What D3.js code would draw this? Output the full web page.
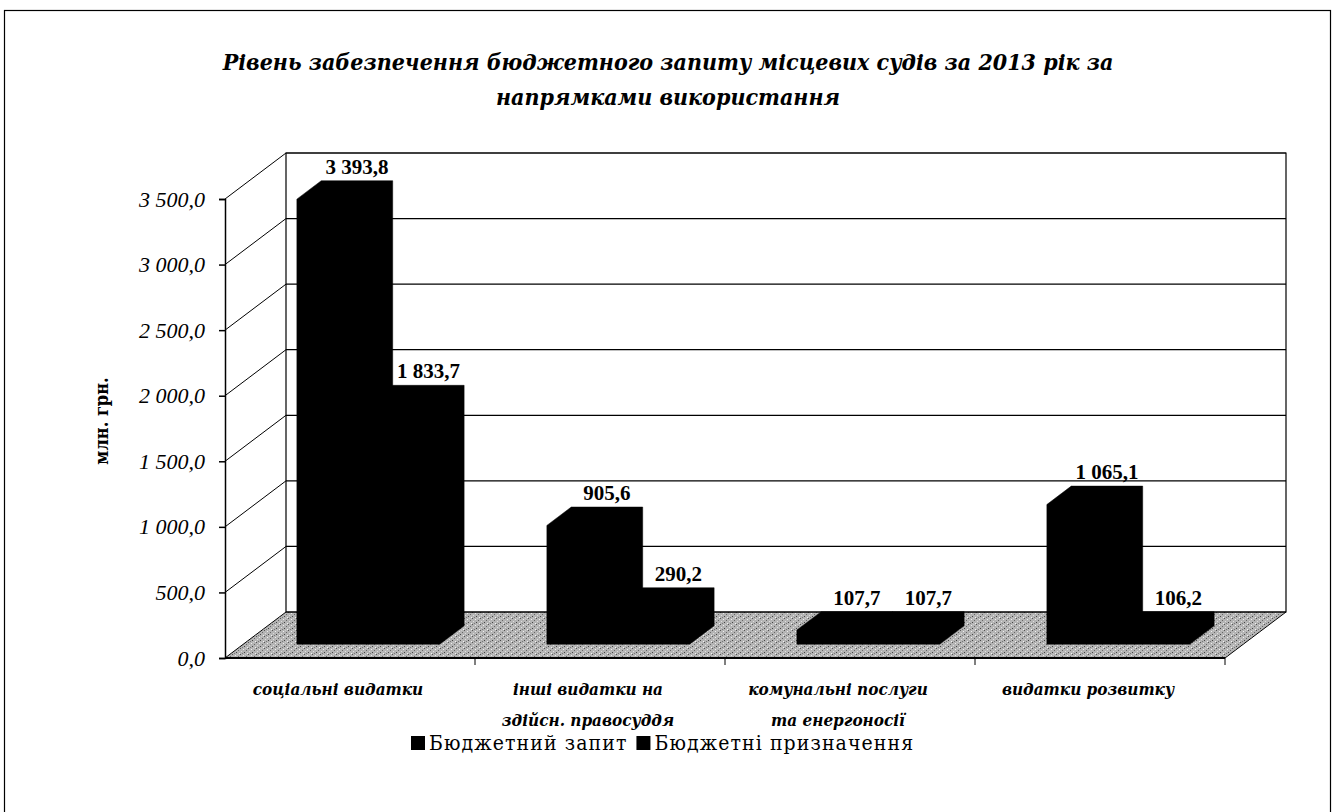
<!DOCTYPE html>
<html>
<head>
<meta charset="utf-8">
<script src="https://cdn.jsdelivr.net/npm/d3@7"></script>
<style>
  body { margin: 0; background: #fff; }
  svg { display: block; }
  text { font-family: "DejaVu Serif Condensed", "DejaVu Serif", "Liberation Serif", serif; fill: #000; }
  .num { font-family: "Liberation Serif", "Times New Roman", serif; }
</style>
</head>
<body>
<div id="chart"></div>
<script>
// chart data
const categories = [
    ['соціальні видатки'],
    ['інші видатки на', 'здійсн. правосуддя'],
    ['комунальні послуги', 'та енергоносії'],
    ['видатки розвитку']
];
const seriesNames = ['Бюджетний запит', 'Бюджетні призначення'];
const requestValues = [3393.8, 905.6, 107.7, 1065.1];
const allocatedValues = [1833.7, 290.2, 107.7, 106.2];
const yTicks = [0, 500, 1000, 1500, 2000, 2500, 3000, 3500];
const titleLines = [
    'Рівень забезпечення бюджетного запиту місцевих судів за 2013 рік за',
    'напрямками використання'
];
const yLabel = 'млн. грн.';

const width = 1335;
const height = 812;

// 3D look: full depth of the floor and the slice that the bars take
const depthX = 61;
const depthY = -46;
const barFront = 0.3;
const barBack = 0.7;

const svg = d3.select('#chart').append('svg')
    .attr('width', width)
    .attr('height', height);

const locale = d3.formatLocale({decimal: ',', thousands: ' ', grouping: [3], currency: ['', '']});
const fmt = locale.format(',.1f');

const x = d3.scaleBand()
    .domain(d3.range(categories.length))
    .range([225, 1225]);

const xInner = d3.scaleBand()
    .domain([0, 1])
    .range([0, x.bandwidth()])
    .paddingOuter(0.75);

const y = d3.scaleLinear()
    .domain([0, 3500])
    .range([658, 199]);

function proj(px, py, f) {
    return [px + f * depthX, py + f * depthY];
}

// floor texture
const defs = svg.append('defs');
const pat = defs.append('pattern')
    .attr('id', 'floorPat')
    .attr('width', 8)
    .attr('height', 6)
    .attr('patternUnits', 'userSpaceOnUse');
pat.append('rect').attr('width', 8).attr('height', 6).attr('fill', '#b4b4b4');
[[0, 0, '#555'], [3, 1, '#eee'], [6, 2, '#666'], [1, 3, '#ddd'], [4, 4, '#444'], [7, 5, '#f2f2f2'], [2, 5, '#777'], [5, 0, '#ccc']]
    .forEach(d => {
        pat.append('rect').attr('x', d[0]).attr('y', d[1]).attr('width', 1).attr('height', 1).attr('fill', d[2]);
    });

// outer frame
svg.append('rect')
    .attr('x', 4.5)
    .attr('y', 10.5)
    .attr('width', 1326)
    .attr('height', 820)
    .attr('fill', 'none')
    .attr('stroke', '#000')
    .attr('stroke-width', 1.2);

// title
svg.append('g').selectAll('text')
    .data(titleLines)
    .join('text')
    .attr('x', 668)
    .attr('y', (d, i) => 70 + i * 35)
    .attr('text-anchor', 'middle')
    .attr('font-size', 23)
    .attr('font-weight', 'bold')
    .attr('font-style', 'italic')
    .text(d => d);

const x0 = x.range()[0];
const x1 = x.range()[1];
const yTop = y(3500);
const yBase = y(0);

// floor
const floorPts = [proj(x0, yBase, 0), proj(x1, yBase, 0), proj(x1, yBase, 1), proj(x0, yBase, 1)];
svg.append('polygon')
    .attr('points', floorPts.map(p => p.join(',')).join(' '))
    .attr('fill', 'url(#floorPat)')
    .attr('stroke', '#000')
    .attr('stroke-width', 1);

// back wall
const wallPts = [proj(x0, yBase, 1), proj(x1, yBase, 1), proj(x1, yTop, 1), proj(x0, yTop, 1)];
svg.append('polygon')
    .attr('points', wallPts.map(p => p.join(',')).join(' '))
    .attr('fill', 'none')
    .attr('stroke', '#000')
    .attr('stroke-width', 1.2);

// gridlines on back wall and side wall
const grid = svg.append('g');
yTicks.filter(t => t > 0).forEach(t => {
    const a = proj(x0, y(t), 0);
    const b = proj(x0, y(t), 1);
    const c = proj(x1, y(t), 1);
    grid.append('line')
        .attr('x1', a[0]).attr('y1', a[1]).attr('x2', b[0]).attr('y2', b[1])
        .attr('stroke', '#000').attr('stroke-width', 1);
    grid.append('line')
        .attr('x1', b[0]).attr('y1', b[1]).attr('x2', c[0]).attr('y2', c[1])
        .attr('stroke', '#000').attr('stroke-width', 1.2);
});

// y axis on the front edge
svg.append('g')
    .attr('transform', `translate(${x0},0)`)
    .call(d3.axisLeft(y).tickValues(yTicks).tickSize(6).tickPadding(14).tickFormat(fmt))
    .call(g => g.attr('font-family', null))
    .call(g => g.select('.domain').attr('stroke', '#000').attr('stroke-width', 1.5))
    .call(g => g.selectAll('.tick line').attr('stroke-width', 1.5))
    .call(g => g.selectAll('.tick text')
        .attr('class', 'num')
        .attr('font-size', 22)
        .attr('font-style', 'italic'));

// front floor edge and category ticks
svg.append('line')
    .attr('x1', x0).attr('y1', yBase).attr('x2', x1).attr('y2', yBase)
    .attr('stroke', '#000').attr('stroke-width', 2);
svg.append('g').selectAll('line')
    .data(d3.range(1, categories.length + 1))
    .join('line')
    .attr('x1', d => x0 + d * x.step())
    .attr('x2', d => x0 + d * x.step())
    .attr('y1', yBase)
    .attr('y2', yBase + 7)
    .attr('stroke', '#000');

// bars
const bars = [];
categories.forEach((c, i) => {
    [requestValues[i], allocatedValues[i]].forEach((v, s) => {
        bars.push({cat: i, series: s, value: v});
    });
});

const barG = svg.append('g');
bars.forEach(d => {
    const left = x(d.cat) + xInner(d.series);
    const right = left + xInner.bandwidth();
    const top = y(d.value);
    const fl = proj(left, yBase, barFront);
    const fr = proj(right, yBase, barFront);
    const tl = proj(left, top, barFront);
    const btl = proj(left, top, barBack);
    const btr = proj(right, top, barBack);
    const bbr = proj(right, yBase, barBack);
    const outline = [fl, tl, btl, btr, bbr, fr];
    barG.append('polygon')
        .attr('points', outline.map(p => p.join(',')).join(' '))
        .attr('fill', '#000')
        .attr('stroke', '#000')
        .attr('stroke-width', 0.5);
    d.labelX = (btl[0] + btr[0]) / 2;
    d.labelY = btl[1] - 7;
});

// data labels
svg.append('g').selectAll('text')
    .data(bars)
    .join('text')
    .attr('class', 'num')
    .attr('x', d => d.labelX)
    .attr('y', d => d.labelY)
    .attr('text-anchor', 'middle')
    .attr('font-size', 21)
    .attr('font-weight', 'bold')
    .text(d => fmt(d.value));

// category labels
const catG = svg.append('g');
categories.forEach((lines, i) => {
    const cx = x(i) + x.bandwidth() / 2 - 12;
    catG.append('text')
        .attr('x', cx)
        .attr('y', 695)
        .attr('text-anchor', 'middle')
        .attr('font-size', 17)
        .attr('font-weight', 'bold')
        .attr('font-style', 'italic')
        .selectAll('tspan')
        .data(lines)
        .join('tspan')
        .attr('x', cx)
        .attr('dy', (l, j) => j === 0 ? 0 : 31)
        .text(l => l);
});

// y axis title
svg.append('text')
    .attr('transform', 'translate(108,421) rotate(-90)')
    .attr('text-anchor', 'middle')
    .attr('font-size', 18)
    .attr('font-weight', 'bold')
    .text(yLabel);

// legend
const legend = svg.append('g').attr('transform', 'translate(411,743)');
let lx = 0;
seriesNames.forEach((name, i) => {
    const item = legend.append('g').attr('transform', `translate(${lx},0)`);
    item.append('rect')
        .attr('x', 0).attr('y', -7)
        .attr('width', 14).attr('height', 14)
        .attr('fill', '#000');
    const t = item.append('text')
        .attr('x', 18)
        .attr('y', 7)
        .attr('font-size', 21)
        .attr('letter-spacing', 1.1)
        .text(name);
    lx += 18 + t.node().getComputedTextLength() + 9;
});
</script>
</body>
</html>
